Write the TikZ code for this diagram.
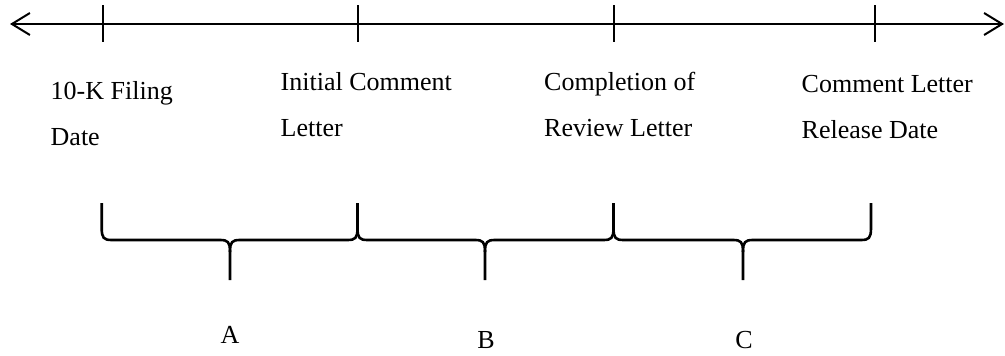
\documentclass[tikz,border=0pt]{standalone}
\usepackage{fontspec}
\setmainfont{Liberation Serif}
\usetikzlibrary{arrows.meta}
\tikzset{
  axisline/.style={line width=2pt, {Straight Barb[length=18pt,width=22pt,line width=2pt]}-{Straight Barb[length=18pt,width=22pt,line width=2pt]}},
  tickline/.style={line width=2pt},
  bracestroke/.style={line width=2.6pt, line join=round},
  lbl/.style={font=\fontsize{26}{46}\selectfont, inner sep=0pt, anchor=base west, align=left},
  letter/.style={font=\fontsize{26}{30}\selectfont, inner sep=0pt, anchor=base}
}
\newcommand\tlbrace[3]{% x0, xm, x1
  \draw[bracestroke] (#1,203) -- (#1,228) .. controls (#1,238) and (#1+2,240) .. (#1+10,240)
    -- (#2-10,240) .. controls (#2-2,240) and (#2,242) .. (#2,252) -- (#2,280);
  \draw[bracestroke] (#2,252) .. controls (#2,242) and (#2+2,240) .. (#2+10,240)
    -- (#3-10,240) .. controls (#3-2,240) and (#3,238) .. (#3,228) -- (#3,203);
}
\begin{document}
\begin{tikzpicture}[x=1pt,y=-1pt]
\useasboundingbox (0,0) rectangle (1005,356);
% axis
\coordinate (L) at (10,24);
\coordinate (R) at (1004,24);
\draw[axisline] (L) -- (R);
% ticks
\foreach \n/\x in {t1/102.7, t2/357.5, t3/613.5, t4/875}{
  \coordinate (\n) at (\x,24);
  \draw[tickline] (\x,5) -- (\x,42);
}
% labels (anchor at baseline of last line)
\node[lbl] (l1) at (50.5,145) {10-K Filing\\Date};
\node[lbl] (l2) at (280.5,136) {Initial Comment\\Letter};
\node[lbl] (l3) at (544,136) {Completion of\\Review Letter};
\node[lbl] (l4) at (801.5,138) {Comment Letter\\Release Date};
% braces
\tlbrace{101.7}{230}{357.5}
\tlbrace{357.5}{485}{613.5}
\tlbrace{613.5}{743}{871}
% letters
\node[letter] (A) at (230,343) {A};
\node[letter] (B) at (486,348) {B};
\node[letter] (C) at (744,348) {C};
\end{tikzpicture}
\end{document}
